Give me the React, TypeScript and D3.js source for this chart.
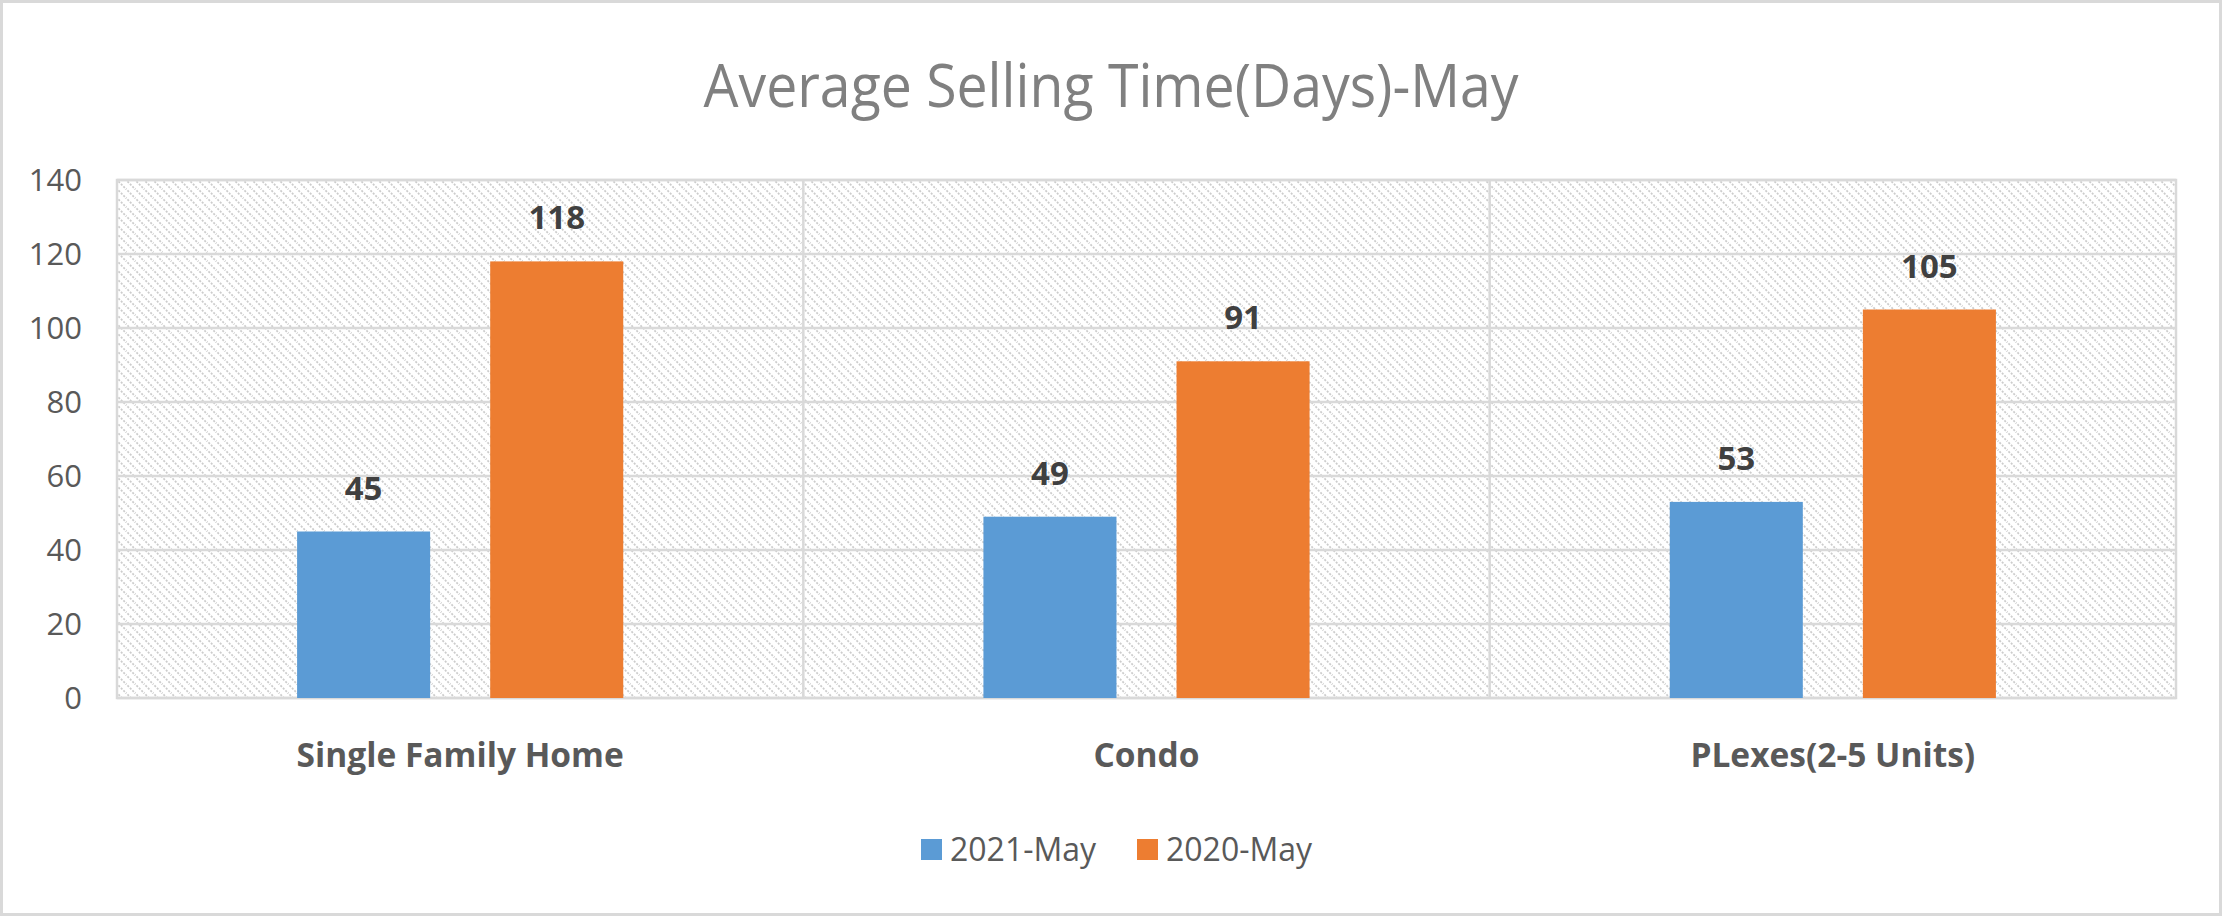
import React from "react";
import * as d3 from "d3";

const categories = ["Single Family Home", "Condo", "PLexes(2-5 Units)"];
const seriesNames = ["2021-May", "2020-May"];
const values2021 = [45, 49, 53];
const values2020 = [118, 91, 105];
const yTicks = [0, 20, 40, 60, 80, 100, 120, 140];
const colors = ["#5b9bd5", "#ed7d31"];

const W = 2222;
const H = 916;
const M = { left: 117, right: 2176, top: 180, bottom: 698 };

export default function App() {
  const y = d3.scaleLinear().domain([0, 140]).range([M.bottom, M.top]);
  const x0 = d3.scaleBand<string>().domain(categories).range([M.left, M.right]).padding(0);
  const bw = x0.bandwidth();
  const pad = bw * 0.2624;
  const x1 = d3
    .scaleBand<string>()
    .domain(seriesNames)
    .range([pad, bw - pad])
    .paddingInner(0.311)
    .paddingOuter(0);
  const series = [values2021, values2020];
  const font = "'Open Sans', sans-serif";

  return (
    <svg
      width={W}
      height={H}
      style={{ position: "absolute", left: 0, top: 0, background: "#fff" }}
      fontFamily={font}
    >
      <defs>
        <pattern id="hatch" width="9" height="9" patternUnits="userSpaceOnUse">
          <rect width="9" height="9" fill="#ffffff" />
          <path d="M-1,-1 L10,10 M-1,8 L1,10 M8,-1 L10,1" stroke="#cccccc" strokeWidth="1.7" strokeDasharray="2,1.5" />
        </pattern>
      </defs>
      <rect x={1.5} y={1.5} width={W - 3} height={H - 3} fill="#fff" stroke="#d9d9d9" strokeWidth={3} />
      <text
        x={1111}
        y={107}
        textAnchor="middle"
        fontSize={60}
        fontWeight={400}
        fill="#808080"
        textLength={815}
        lengthAdjust="spacingAndGlyphs"
      >
        Average Selling Time(Days)-May
      </text>
      <rect
        x={M.left}
        y={M.top}
        width={M.right - M.left}
        height={M.bottom - M.top}
        fill="url(#hatch)"
        stroke="#d9d9d9"
        strokeWidth={2.5}
      />
      {yTicks.map((t) => (
        <g key={t}>
          <line x1={M.left} x2={M.right} y1={y(t)} y2={y(t)} stroke="#d9d9d9" strokeWidth={2.5} />
          <text x={82} y={y(t)} dy="0.36em" textAnchor="end" fontSize={31} fill="#595959">
            {t}
          </text>
        </g>
      ))}
      {categories.slice(1).map((c) => (
        <line key={c} x1={x0(c)} x2={x0(c)} y1={M.top} y2={M.bottom} stroke="#d9d9d9" strokeWidth={2.5} />
      ))}
      {categories.map((c, i) => (
        <g key={c}>
          {seriesNames.map((s, j) => {
            const v = series[j][i];
            const bx = (x0(c) as number) + (x1(s) as number);
            return (
              <g key={s}>
                <rect x={bx} y={y(v)} width={x1.bandwidth()} height={y(0) - y(v)} fill={colors[j]} />
                <text
                  x={bx + x1.bandwidth() / 2}
                  y={y(v) - 32}
                  textAnchor="middle"
                  fontSize={33}
                  fontWeight={700}
                  fill="#404040"
                >
                  {v}
                </text>
              </g>
            );
          })}
          <text
            x={(x0(c) as number) + bw / 2}
            y={767}
            textAnchor="middle"
            fontSize={33.5}
            fontWeight={700}
            fill="#595959"
          >
            {c}
          </text>
        </g>
      ))}
      {seriesNames.map((s, j) => {
        const lx = [921, 1137][j];
        return (
          <g key={s}>
            <rect x={lx} y={839} width={21} height={21} fill={colors[j]} />
            <text x={lx + 29} y={861} fontSize={32} fill="#595959">
              {s}
            </text>
          </g>
        );
      })}
    </svg>
  );
}
